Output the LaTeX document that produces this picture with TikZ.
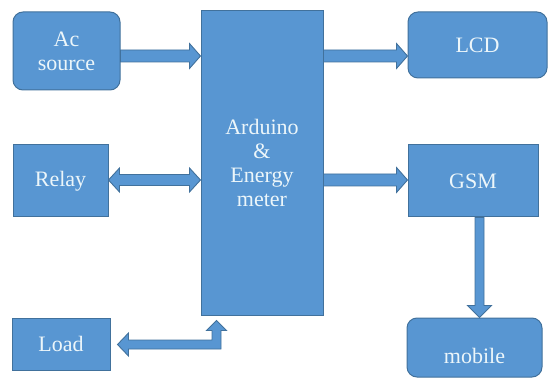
\documentclass[tikz,border=0pt]{standalone}
\usepackage{fontspec}
\newfontfamily\boxfont{Liberation Serif}[Scale=1.0]
\usetikzlibrary{calc}
\definecolor{boxfill}{RGB}{88,150,210}
\definecolor{boxline}{RGB}{65,113,156}
\definecolor{boxtext}{RGB}{236,246,250}
\tikzset{
  blk/.style={draw=boxline, fill=boxfill, line width=1pt, inner sep=0pt,
    text=boxtext, align=center, font=\boxfont\fontsize{22}{24}\selectfont},
  rblk/.style={blk, rounded corners=10pt},
  blockarrow/.style={draw=boxline, fill=boxfill, line width=0.9pt, line join=miter}
}
% right-pointing block arrow from #1 to #2 (same height)
\newcommand\rblockarrow[2]{%
  \path[blockarrow] let \p1=(#1), \p2=(#2) in
    (\x1,\y1+6pt) -- (\x2-11pt,\y1+6pt) -- (\x2-11pt,\y1+12.5pt) -- (\x2,\y1)
    -- (\x2-11pt,\y1-12.5pt) -- (\x2-11pt,\y1-6pt) -- (\x1,\y1-6pt) -- cycle;}
% double-headed horizontal block arrow between #1 (left) and #2 (right)
\newcommand\dblockarrow[2]{%
  \path[blockarrow] let \p1=(#1), \p2=(#2) in
    (\x1,\y1) -- (\x1+11pt,\y1+12pt) -- (\x1+11pt,\y1+5.5pt) -- (\x2-11pt,\y1+5.5pt)
    -- (\x2-11pt,\y1+12pt) -- (\x2,\y1) -- (\x2-11pt,\y1-12pt) -- (\x2-11pt,\y1-5.5pt)
    -- (\x1+11pt,\y1-5.5pt) -- (\x1+11pt,\y1-12pt) -- cycle;}
% downward block arrow from #1 (top) to #2 (tip)
\newcommand\vblockarrow[2]{%
  \path[blockarrow] let \p1=(#1), \p2=(#2) in
    (\x1-4.5pt,\y1) -- (\x1-4.5pt,\y2+12pt) -- (\x1-12pt,\y2+12pt) -- (\x2,\y2)
    -- (\x1+12pt,\y2+12pt) -- (\x1+4.5pt,\y2+12pt) -- (\x1+4.5pt,\y1) -- cycle;}
\begin{document}
\begin{tikzpicture}[x=1pt,y=-1pt]
\useasboundingbox (0,0) rectangle (548,379);
% boxes
\node[rblk, minimum width=107pt, minimum height=78pt] (ac) at (66.5,51) {Ac\\source};
\node[blk, minimum width=95pt, minimum height=72pt] (relay) at (60.5,181) {Relay};
\node[blk, minimum width=98pt, minimum height=52pt] (load) at (61,344) {Load};
\node[blk, minimum width=122pt, minimum height=304pt] (ard) at (262,163) {Arduino\\\&\\Energy\\meter};
\node[rblk, minimum width=139pt, minimum height=66pt] (lcd) at (477.5,45) {LCD};
\node[blk, minimum width=130pt, minimum height=72pt] (gsm) at (473,181) {GSM};
\node[rblk, minimum width=135pt, minimum height=59pt,
  label={[text=boxtext, font=\boxfont\fontsize{22}{24}\selectfont, yshift=-8pt]center:mobile}]
  (mobile) at (474.5,347.5) {};
% connectors
\coordinate (y1) at (0,56);
\coordinate (y2) at (0,180);
\coordinate (x3) at (479.5,0);
\rblockarrow{ac.east |- y1}{ard.west |- y1}
\rblockarrow{ard.east |- y1}{lcd.west |- y1}
\rblockarrow{ard.east |- y2}{gsm.west |- y2}
\dblockarrow{relay.east |- y2}{ard.west |- y2}
\vblockarrow{gsm.south -| x3}{mobile.north -| x3}
% elbow arrow Load <-> Arduino
\coordinate (lt) at ($(load.east |- 0,344.5)+(7,0)$);
\coordinate (at) at ($(ard.south -| 216.5,0)+(0,5)$);
\path[blockarrow] let \p1=(lt), \p2=(at) in
  (\x1,\y1) -- (\x1+11pt,\y1+11.5pt) -- (\x1+11pt,\y1+4.5pt) -- (\x2-4.5pt,\y1+4.5pt)
  -- (\x2-4.5pt,\y2-10pt) -- (\x2-10pt,\y2-10pt) -- (\x2,\y2) -- (\x2+10pt,\y2-10pt)
  -- (\x2+4.5pt,\y2-10pt) -- (\x2+4.5pt,\y1-4.5pt) -- (\x1+11pt,\y1-4.5pt)
  -- (\x1+11pt,\y1-11.5pt) -- cycle;
\end{tikzpicture}
\end{document}
